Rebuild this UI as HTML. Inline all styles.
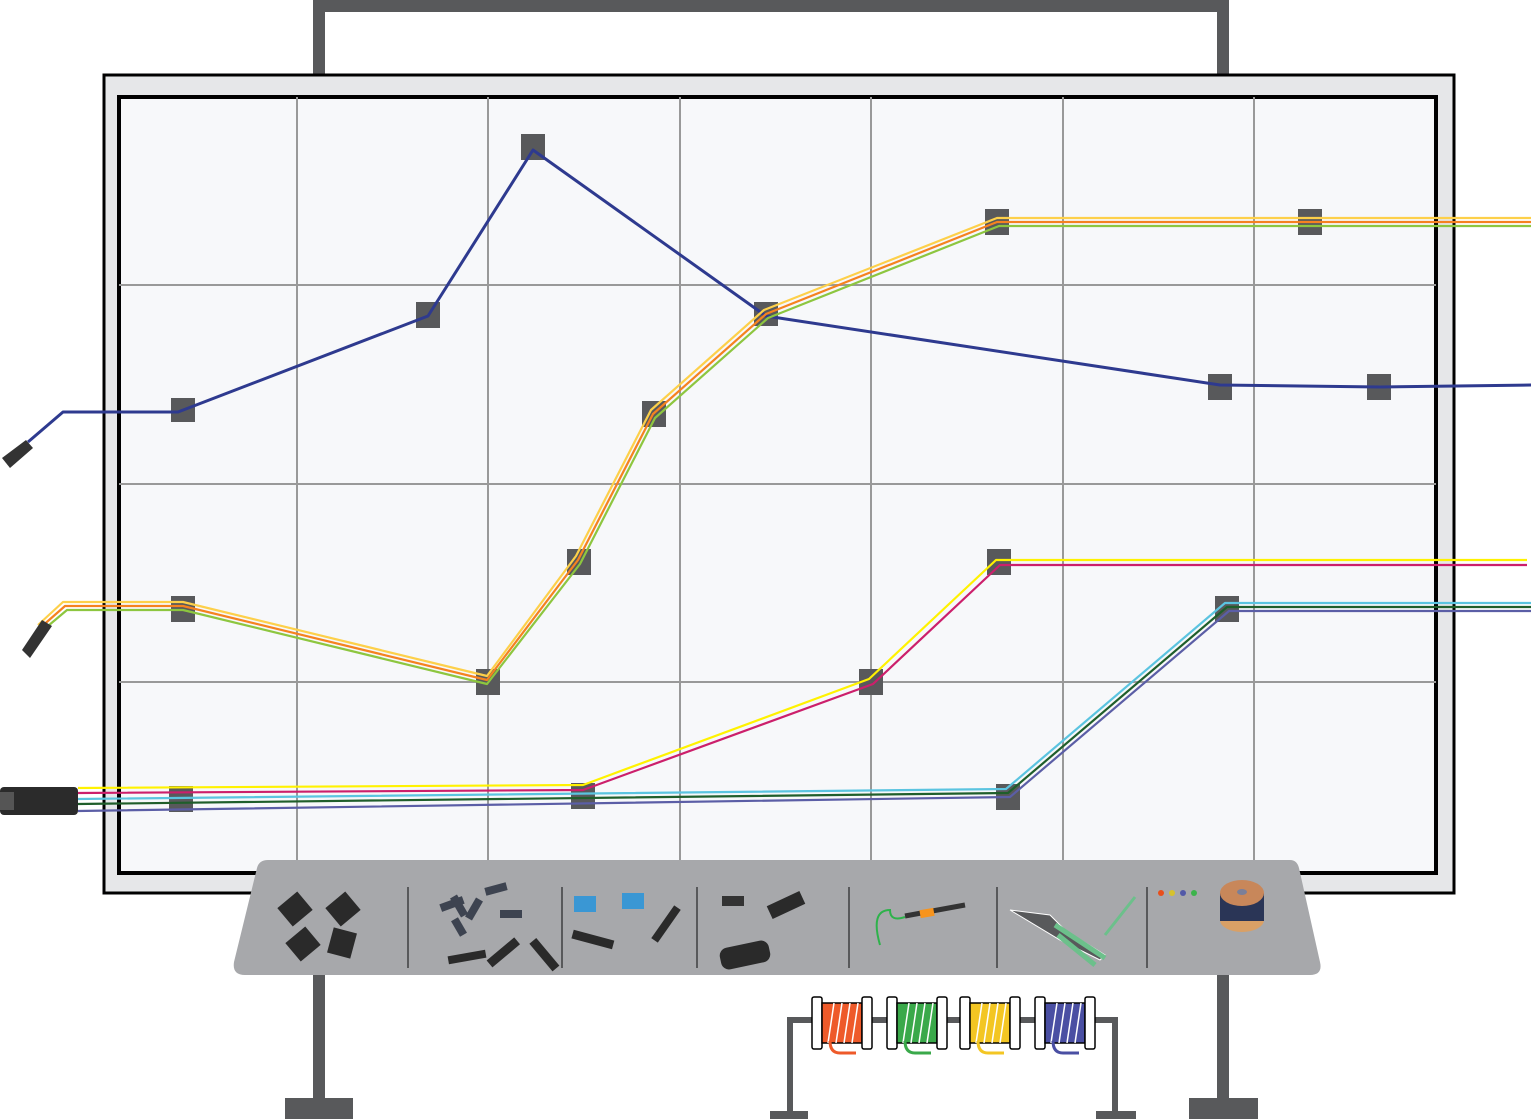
<!DOCTYPE html>
<html><head><style>html,body{margin:0;padding:0;background:#fff}svg{display:block}</style></head><body>
<svg width="1531" height="1119" viewBox="0 0 1531 1119" xmlns="http://www.w3.org/2000/svg">
<g fill="#58595b">
<rect x="313" y="0" width="916" height="12"/>
<rect x="313" y="0" width="12" height="76"/>
<rect x="1217" y="0" width="12" height="76"/>
<rect x="313" y="970" width="12" height="130"/>
<rect x="285" y="1098" width="68" height="21"/>
<rect x="1217" y="970" width="12" height="130"/>
<rect x="1189" y="1098" width="69" height="21"/>
<rect x="787" y="1017" width="331" height="6"/>
<rect x="787" y="1017" width="6" height="96"/>
<rect x="1112" y="1017" width="6" height="96"/>
<rect x="770" y="1111" width="38" height="8"/>
<rect x="1096" y="1111" width="40" height="8"/>
</g>
<rect x="104" y="75" width="1350" height="818" fill="#e6e7e9" stroke="#000" stroke-width="3"/>
<rect x="119" y="97" width="1317" height="776" fill="#f7f8fa" stroke="#000" stroke-width="4"/>
<g stroke="#999" stroke-width="2">
<line x1="297" y1="97" x2="297" y2="873"/><line x1="488" y1="97" x2="488" y2="873"/>
<line x1="680" y1="97" x2="680" y2="873"/><line x1="871" y1="97" x2="871" y2="873"/>
<line x1="1063" y1="97" x2="1063" y2="873"/><line x1="1254" y1="97" x2="1254" y2="873"/>
<line x1="119" y1="285" x2="1436" y2="285"/><line x1="119" y1="484" x2="1436" y2="484"/>
<line x1="119" y1="682" x2="1436" y2="682"/>
</g>
<g fill="#58595b">
<rect x="171" y="398" width="24" height="24"/><rect x="416" y="302" width="24" height="26"/>
<rect x="521" y="134" width="24" height="26"/><rect x="754" y="302" width="24" height="24"/>
<rect x="1208" y="374" width="24" height="26"/><rect x="1367" y="374" width="24" height="26"/>
<rect x="171" y="596" width="24" height="26"/><rect x="476" y="669" width="24" height="26"/>
<rect x="567" y="549" width="24" height="26"/><rect x="642" y="401" width="24" height="26"/>
<rect x="985" y="209" width="24" height="26"/><rect x="1298" y="209" width="24" height="26"/>
<rect x="987" y="549" width="24" height="26"/><rect x="859" y="669" width="24" height="26"/>
<rect x="571" y="783" width="24" height="26"/><rect x="169" y="786" width="24" height="26"/>
<rect x="996" y="784" width="24" height="26"/><rect x="1215" y="596" width="24" height="26"/>
</g>
<g fill="none" stroke-width="2.2" stroke-linejoin="round">
<polyline stroke="#2e3a8f" stroke-width="3" points="28,442 63,412 178,412 428,316 533,150 766,316 1220,385 1380,387 1531,385"/>
<polyline stroke="#fdd04a" points="38,625 63,602 183,602 487,676 576,556 651,410 764,310 997,218 1531,218"/>
<polyline stroke="#f58220" points="40,628 65,606 183,606 487,680 578,560 653,414 766,314 997,222 1531,222"/>
<polyline stroke="#8dc63f" points="42,631 67,610 183,610 487,684 580,564 655,418 768,318 999,226 1531,226"/>
<polyline stroke="#fff200" points="78,788 583,785 869,679 996,560 1527,560"/>
<polyline stroke="#cc1f6b" points="78,793 583,790 873,684 1000,565 1527,565"/>
<polyline stroke="#5bc4e0" points="78,799 1006,789 1225,603 1531,603"/>
<polyline stroke="#1f5e2b" points="78,804 1008,793 1227,607 1531,607"/>
<polyline stroke="#5b5ea6" points="78,811 1010,797 1229,611 1531,611"/>
</g>
<g fill="#333">
<path d="M2,458 L26,440 L33,448 L10,468 Z"/>
<path d="M22,650 L42,620 L52,626 L30,658 Z"/>
<rect x="0" y="787" width="78" height="28" rx="4" fill="#2b2b2b"/>
<rect x="0" y="792" width="14" height="18" fill="#555"/>
</g>
<path d="M268,860 H1290 Q1297,860 1299,868 L1320,962 Q1323,975 1310,975 H245 Q232,975 234,962 L257,868 Q259,860 268,860 Z" fill="#a7a8ab"/>
<g stroke="#58595b" stroke-width="2">
<line x1="408" y1="887" x2="408" y2="968"/><line x1="562" y1="887" x2="562" y2="968"/>
<line x1="697" y1="887" x2="697" y2="968"/><line x1="849" y1="887" x2="849" y2="968"/>
<line x1="997" y1="887" x2="997" y2="968"/><line x1="1147" y1="887" x2="1147" y2="968"/>
</g>
<g fill="#2a2a2a">
<rect x="282" y="897" width="26" height="24" transform="rotate(-40 295 909)"/>
<rect x="330" y="897" width="26" height="24" transform="rotate(-40 343 909)"/>
<rect x="290" y="932" width="26" height="24" transform="rotate(-40 303 944)"/>
<rect x="330" y="930" width="24" height="26" transform="rotate(15 342 943)"/>
<g fill="#3d4350"><rect x="440" y="900" width="24" height="8" transform="rotate(-20 452 904)"/><rect x="455" y="895" width="8" height="22" transform="rotate(-30 459 906)"/><rect x="485" y="885" width="22" height="8" transform="rotate(-15 496 889)"/><rect x="470" y="898" width="8" height="22" transform="rotate(30 474 909)"/><rect x="500" y="910" width="22" height="8"/><rect x="455" y="918" width="8" height="18" transform="rotate(-30 459 927)"/></g>
<rect x="448" y="953" width="38" height="8" transform="rotate(-10 467 957)"/>
<rect x="485" y="948" width="36" height="9" transform="rotate(-40 503 952)"/>
<rect x="526" y="950" width="36" height="9" transform="rotate(50 544 955)"/>
<rect x="572" y="935" width="42" height="9" transform="rotate(15 593 939)"/>
<rect x="646" y="920" width="40" height="8" transform="rotate(-55 666 924)"/>
<rect x="768" y="898" width="36" height="14" transform="rotate(-25 786 905)"/>
<rect x="720" y="944" width="50" height="22" rx="8" transform="rotate(-12 745 955)"/>
</g>
<g fill="#3a97d4"><rect x="574" y="896" width="22" height="16"/><rect x="622" y="893" width="22" height="16"/></g>
<rect x="722" y="896" width="22" height="10" fill="#333"/>
<path d="M880,945 Q870,910 890,910 Q890,922 905,917" fill="none" stroke="#2eb24b" stroke-width="2"/>
<path d="M905,916 L965,905" stroke="#333" stroke-width="5"/>
<rect x="920" y="909" width="14" height="8" fill="#f7941d" transform="rotate(-10 927 913)"/>
<path d="M1010,910 L1060,940 L1100,960 L1105,955 L1065,930 L1050,915 Z" fill="#58595b" stroke="#fff" stroke-width="1"/>
<path d="M1055,925 L1105,958 M1058,935 L1095,965" stroke="#6cc08b" stroke-width="5"/>
<path d="M1105,935 L1135,897" stroke="#6cc08b" stroke-width="3"/>
<g><circle cx="1161" cy="893" r="3" fill="#e84e1b"/><circle cx="1172" cy="893" r="3" fill="#d6c22c"/><circle cx="1183" cy="893" r="3" fill="#5259a8"/><circle cx="1194" cy="893" r="3" fill="#3cb44b"/></g>
<ellipse cx="1242" cy="920" rx="22" ry="12" fill="#d9a066"/>
<rect x="1220" y="893" width="44" height="28" fill="#2a3556"/>
<ellipse cx="1242" cy="893" rx="22" ry="13" fill="#c8875a"/>
<ellipse cx="1242" cy="892" rx="5" ry="3" fill="#7a7f99"/>
<g stroke="#000" stroke-width="1.5">
<g transform="translate(812,997)"><rect x="0" y="0" width="10" height="52" rx="2" fill="#fff"/><rect x="10" y="6" width="40" height="40" fill="#ee5a2a"/><path d="M16,46 L22,6 M24,46 L30,6 M32,46 L38,6 M40,46 L46,6" stroke="#fff" stroke-width="1.5"/><rect x="50" y="0" width="10" height="52" rx="2" fill="#fff"/><path d="M18,44 Q18,56 28,56 H44" fill="none" stroke="#ee5a2a" stroke-width="3"/></g>
<g transform="translate(887,997)"><rect x="0" y="0" width="10" height="52" rx="2" fill="#fff"/><rect x="10" y="6" width="40" height="40" fill="#3aa94a"/><path d="M16,46 L22,6 M24,46 L30,6 M32,46 L38,6 M40,46 L46,6" stroke="#fff" stroke-width="1.5"/><rect x="50" y="0" width="10" height="52" rx="2" fill="#fff"/><path d="M18,44 Q18,56 28,56 H44" fill="none" stroke="#3aa94a" stroke-width="3"/></g>
<g transform="translate(960,997)"><rect x="0" y="0" width="10" height="52" rx="2" fill="#fff"/><rect x="10" y="6" width="40" height="40" fill="#f3c623"/><path d="M16,46 L22,6 M24,46 L30,6 M32,46 L38,6 M40,46 L46,6" stroke="#fff" stroke-width="1.5"/><rect x="50" y="0" width="10" height="52" rx="2" fill="#fff"/><path d="M18,44 Q18,56 28,56 H44" fill="none" stroke="#f3c623" stroke-width="3"/></g>
<g transform="translate(1035,997)"><rect x="0" y="0" width="10" height="52" rx="2" fill="#fff"/><rect x="10" y="6" width="40" height="40" fill="#4a4fa3"/><path d="M16,46 L22,6 M24,46 L30,6 M32,46 L38,6 M40,46 L46,6" stroke="#fff" stroke-width="1.5"/><rect x="50" y="0" width="10" height="52" rx="2" fill="#fff"/><path d="M18,44 Q18,56 28,56 H44" fill="none" stroke="#4a4fa3" stroke-width="3"/></g>
</g>
</svg>
</body></html>
